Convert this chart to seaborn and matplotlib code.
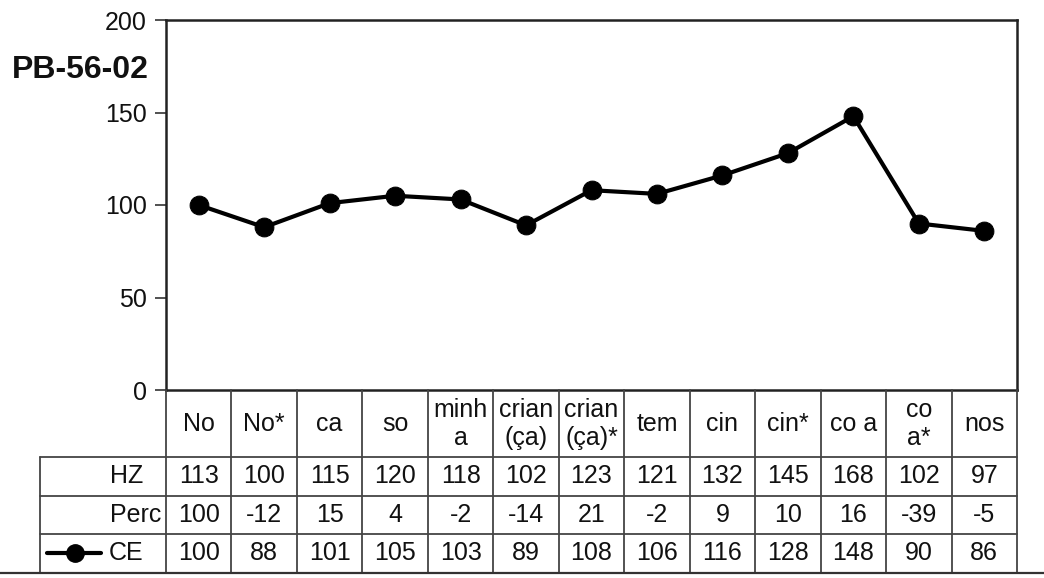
import matplotlib
matplotlib.use("Agg")
import matplotlib.pyplot as plt
import seaborn as sns
import pandas as pd
from matplotlib.lines import Line2D

categories = ["No", "No*", "ca", "so", "minh\na", "crian\n(ça)", "crian\n(ça)*",
              "tem", "cin", "cin*", "co a", "co\na*", "nos"]
hz = [113, 100, 115, 120, 118, 102, 123, 121, 132, 145, 168, 102, 97]
perc = [100, -12, 15, 4, -2, -14, 21, -2, 9, 10, 16, -39, -5]
ce = [100, 88, 101, 105, 103, 89, 108, 106, 116, 128, 148, 90, 86]
row_labels = ["HZ", "Perc", "CE"]
y_ticks = [0, 50, 100, 150, 200]
title = "PB-56-02"

sns.set_theme(style="white")
plt.rcParams['font.family'] = ['Liberation Sans', 'DejaVu Sans']

W, H = 1044, 578
fig = plt.figure(figsize=(W / 100, H / 100), dpi=100)


def fx(px):
    return px / W


def fy(py):
    return 1 - py / H


L, R, T, B = 166, 1017, 20, 390
ax = fig.add_axes([fx(L), fy(B), fx(R) - fx(L), fy(T) - fy(B)])
df = pd.DataFrame({"pos": range(len(ce)), "CE": ce})
sns.lineplot(data=df, x="pos", y="CE", ax=ax, color="black", lw=3.0,
             marker="o", markersize=13.5, markeredgecolor="black", legend=False)
ax.set_xlim(-0.5, len(ce) - 0.5)
ax.set_ylim(0, 200)
ax.set_yticks(y_ticks)
ax.set_xticks([])
ax.tick_params(axis='y', left=True, length=8, width=1.2, labelsize=18, pad=6,
               color="#333", labelcolor="#111")
for s in ax.spines.values():
    s.set_color("#222")
    s.set_linewidth(1.8)
ax.set_xlabel("")
ax.set_ylabel("")
fig.text(fx(12), fy(70), title, fontsize=23, fontweight="bold", ha="left",
         va="center", color="#111")

# ---- data table below the plot ----
n = len(categories)
colw = (R - L) / n
LBL = 40
x_left = -0.5 - (L - LBL) / colw
tax = fig.add_axes([fx(LBL), fy(573), fx(R) - fx(LBL), fy(B) - fy(573)])
tax.set_xlim(x_left, n - 0.5)
tax.set_ylim(573, B)
tax.axis("off")

gc = "#444"
glw = 1.3
row_edges = [457, 496, 534, 573]
for yy in row_edges[:-1]:
    tax.plot([x_left, n - 0.5], [yy, yy], color=gc, lw=glw, clip_on=False)
for i in range(n + 1):
    tax.plot([i - 0.5, i - 0.5], [B, 573], color=gc, lw=glw, clip_on=False)
tax.plot([x_left, x_left], [457, 573], color=gc, lw=glw, clip_on=False)
fig.add_artist(Line2D([0, 1], [fy(573), fy(573)], color="#333", lw=1.6))

fs = 18
for i, c in enumerate(categories):
    tax.text(i, 424, c, ha="center", va="center", fontsize=fs, linespacing=1.2,
             color="#111")
row_centers = [476, 515, 553]
for vals, yc in zip([hz, perc, ce], row_centers):
    for i, v in enumerate(vals):
        tax.text(i, yc, str(v), ha="center", va="center", fontsize=fs, color="#111")


def px2x(px):
    return -0.5 + (px - L) / colw


tax.text(px2x(143), row_centers[0], row_labels[0], ha="right", va="center", fontsize=fs, color="#111")
tax.text(px2x(161), row_centers[1], row_labels[1], ha="right", va="center", fontsize=fs, color="#111")
tax.text(px2x(143), row_centers[2], row_labels[2], ha="right", va="center", fontsize=fs, color="#111")
tax.plot([px2x(47), px2x(101)], [row_centers[2], row_centers[2]], color="black",
         lw=3.0, clip_on=False)
tax.plot([px2x(75)], [row_centers[2]], marker="o", markersize=12.5, color="black",
         clip_on=False)

fig.savefig("out.png", dpi=100)
